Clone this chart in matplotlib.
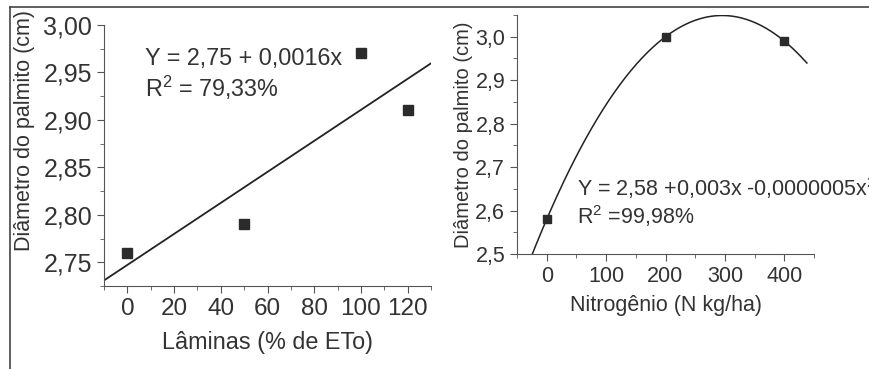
import numpy as np
import matplotlib.pyplot as plt
from matplotlib.ticker import MultipleLocator, FuncFormatter
from matplotlib.lines import Line2D

plt.rcParams['font.family'] = ['Liberation Sans', 'DejaVu Sans']
plt.rcParams['mathtext.fontset'] = 'custom'
plt.rcParams['mathtext.rm'] = 'Liberation Sans'
plt.rcParams['mathtext.it'] = 'Liberation Sans'

# left panel: irrigation depth
laminas = [0, 50, 100, 120]
diam_lam = [2.76, 2.79, 2.97, 2.91]

# right panel: nitrogen dose
nitro = [0, 200, 400]
diam_n = [2.58, 3.00, 2.99]

eq_left = ['Y = 2,75 + 0,0016x', 'R$^2$ = 79,33%']
eq_right = ['Y = 2,58 +0,003x -0,0000005x$^2$', 'R$^2$ =99,98%']

txt = '#333333'
mk = '#2b2b2b'

fig = plt.figure(figsize=(8.69, 3.69), dpi=100)

# frame lines (top and left) like the original figure
fig.add_artist(Line2D([10/869, 1], [1 - 7/369, 1 - 7/369], color='#444444', lw=1.2))
fig.add_artist(Line2D([10/869, 10/869], [0, 1 - 7/369], color='#444444', lw=1.2))


def comma(dec):
    return FuncFormatter(lambda v, p: f'{v:.{dec}f}'.replace('.', ','))


def style(ax):
    for s in ['top', 'right']:
        ax.spines[s].set_visible(False)
    for s in ['left', 'bottom']:
        ax.spines[s].set_color('#555555')
    ax.tick_params(which='both', direction='out', colors='#555555', labelcolor=txt)
    ax.tick_params(which='major', length=5)
    ax.tick_params(which='minor', length=3)


# ---- left
ax1 = fig.add_axes([104/869, 1 - 286/369, (431 - 104)/869, (286 - 25)/369])
ax1.set_xlim(-10, 130)
ax1.set_ylim(2.725, 3.00)
b, a = np.polyfit(laminas, diam_lam, 1)
xl = np.array([-10, 130])
ax1.plot(xl, a + b * xl, color='#222222', lw=1.3)
ax1.plot(laminas, diam_lam, 's', color=mk, ms=7.5)
ax1.xaxis.set_major_locator(MultipleLocator(20))
ax1.xaxis.set_minor_locator(MultipleLocator(10))
ax1.yaxis.set_major_locator(MultipleLocator(0.05))
ax1.yaxis.set_minor_locator(MultipleLocator(0.025))
ax1.yaxis.set_major_formatter(comma(2))
style(ax1)
ax1.tick_params(axis='y', labelsize=18)
ax1.tick_params(axis='x', labelsize=17.5)
ax1.set_xlabel('Lâminas (% de ETo)', fontsize=16.8, color=txt, labelpad=8)
ax1.set_ylabel('Diâmetro do palmito (cm)', fontsize=15.5, color=txt)
ax1.yaxis.set_label_coords(-0.21, 0.594)
ax1.text(145/869, 1 - 58/369, eq_left[0], transform=fig.transFigure, fontsize=16.8, color=txt, va='center')
ax1.text(145/869, 1 - 88/369, eq_left[1], transform=fig.transFigure, fontsize=16.8, color=txt, va='center')

# ---- right
ax2 = fig.add_axes([517/869, 1 - 254/369, (814 - 517)/869, (254 - 15)/369])
ax2.set_xlim(-50, 450)
ax2.set_ylim(2.5, 3.05)
c2, c1, c0 = np.polyfit(nitro, diam_n, 2)
xc = np.linspace(-30, 438, 200)
ax2.plot(xc, c0 + c1 * xc + c2 * xc ** 2, color='#222222', lw=1.1)
ax2.plot(nitro, diam_n, 's', color=mk, ms=5.5)
ax2.xaxis.set_major_locator(MultipleLocator(100))
ax2.xaxis.set_minor_locator(MultipleLocator(50))
ax2.yaxis.set_major_locator(MultipleLocator(0.1))
ax2.yaxis.set_minor_locator(MultipleLocator(0.05))
ax2.yaxis.set_major_formatter(comma(1))
style(ax2)
ax2.tick_params(labelsize=15.5)
ax2.set_xlabel('Nitrogênio (N kg/ha)', fontsize=15.5, color=txt, labelpad=6)
ax2.set_ylabel('Diâmetro do palmito (cm)', fontsize=14.5, color=txt, labelpad=2)
ax2.text(577/869, 1 - 188/369, eq_right[0], transform=fig.transFigure, fontsize=15.5, color=txt, va='center')
ax2.text(577/869, 1 - 216/369, eq_right[1], transform=fig.transFigure, fontsize=15.5, color=txt, va='center')

fig.savefig('out.png', dpi=100)
